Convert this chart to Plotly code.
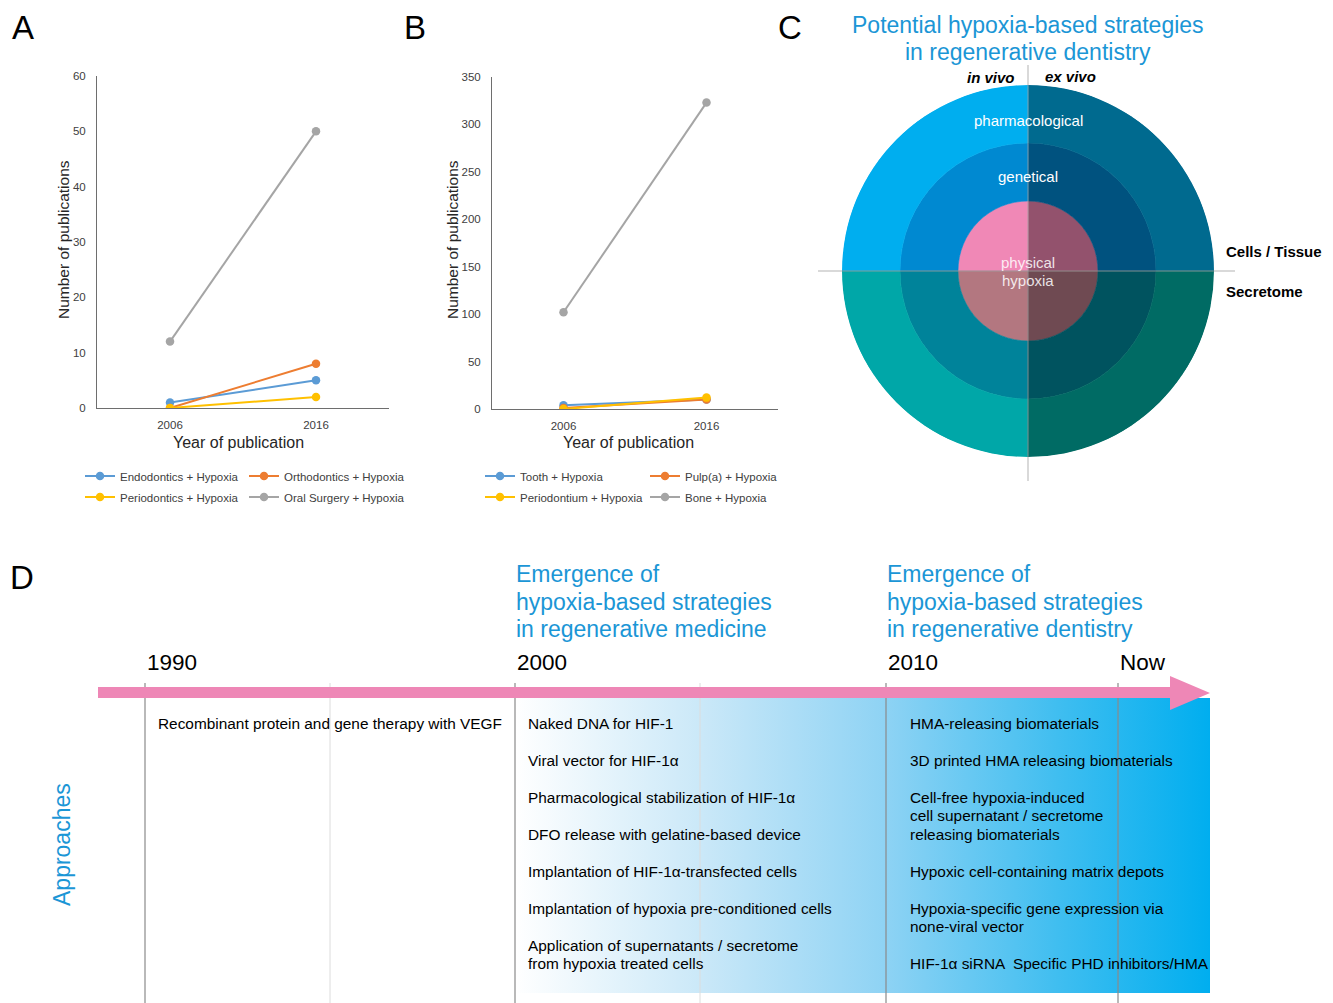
import plotly.graph_objects as go

W, H = 1333, 1003
FONT = "Liberation Sans, Arial, sans-serif"
BLUE_TXT = "#1b96d6"

# ---------------- data ----------------
years = ["2006", "2016"]

# Panel A: publications per dental discipline
a_names = ["Endodontics + Hypoxia", "Orthodontics + Hypoxia",
           "Periodontics + Hypoxia", "Oral Surgery + Hypoxia"]
a_endo = [1, 5]
a_ortho = [0, 8]
a_perio = [0, 2]
a_oral = [12, 50]

# Panel B: publications per tissue
b_names = ["Tooth + Hypoxia", "Pulp(a) + Hypoxia",
           "Periodontium + Hypoxia", "Bone + Hypoxia"]
b_tooth = [4, 10]
b_pulp = [1, 10]
b_periodontium = [0, 12]
b_bone = [102, 323]

series_colors = ["#5b9bd5", "#ed7d31", "#ffc000", "#a5a5a5"]

# Panel C: concentric strategy rings (inner -> outer), quadrants TR, TL, BL, BR
ring_labels = ["physical<br>hypoxia", "genetical", "pharmacological"]
ring_radii = [70, 128, 186]
quadrant_theta = [45, 135, 225, 315]
ring_colors = [
    ["#93526d", "#f088b6", "#b37780", "#6f4a52"],
    ["#00527f", "#0089d1", "#00839a", "#00535f"],
    ["#006a8f", "#00aeef", "#00a7a8", "#006b64"],
]

# Panel D: timeline
timeline_marks = ["1990", "2000", "2010", "Now"]
approaches_1990 = ["Recombinant protein and gene therapy with VEGF"]
approaches_2000 = [
    "Naked DNA for HIF-1",
    "Viral vector for HIF-1α",
    "Pharmacological stabilization of HIF-1α",
    "DFO release with gelatine-based device",
    "Implantation of HIF-1α-transfected cells",
    "Implantation of hypoxia pre-conditioned cells",
    "Application of supernatants / secretome\nfrom hypoxia treated cells",
]
approaches_2010 = [
    "HMA-releasing biomaterials",
    "3D printed HMA releasing biomaterials",
    "Cell-free hypoxia-induced\ncell supernatant / secretome\nreleasing biomaterials",
    "Hypoxic cell-containing matrix depots",
    "Hypoxia-specific gene expression via\nnone-viral vector",
    "HIF-1α siRNA  Specific PHD inhibitors/HMA",
]
heading_medicine = ["Emergence of", "hypoxia-based strategies", "in regenerative medicine"]
heading_dentistry = ["Emergence of", "hypoxia-based strategies", "in regenerative dentistry"]

# ---------------- layout helpers ----------------
def px(x):
    return x / W


def py(y):
    return 1 - y / H


fig = go.Figure()

# ---------------- panels A & B: line charts ----------------
panelA = [a_endo, a_ortho, a_perio, a_oral]
panelB = [b_tooth, b_pulp, b_periodontium, b_bone]
legA_pos = [(80, 476), (244, 476), (80, 497), (244, 497)]
legB_pos = [(480, 476), (645, 476), (480, 497), (645, 497)]

legend_layouts = {}
k = 0
for vals_list, names, axes, legpos in [
    (panelA, a_names, ("x", "y"), legA_pos),
    (panelB, b_names, ("x2", "y2"), legB_pos),
]:
    for vals, name, color, (lx, ly) in zip(vals_list, names, series_colors, legpos):
        k += 1
        lname = "legend" if k == 1 else f"legend{k}"
        fig.add_trace(go.Scatter(
            x=years, y=vals, name=name, mode="lines+markers",
            line=dict(color=color, width=2),
            marker=dict(color=color, size=8.5),
            xaxis=axes[0], yaxis=axes[1], legend=lname, showlegend=True,
        ))
        legend_layouts[lname] = dict(
            x=px(lx), y=py(ly), xanchor="left", yanchor="middle",
            orientation="h", bgcolor="rgba(0,0,0,0)", borderwidth=0,
            font=dict(family=FONT, size=11.5, color="#404040"),
            itemwidth=30, tracegroupgap=0,
        )

axis_common = dict(
    showgrid=False, zeroline=False, showline=True, linecolor="#6e6e6e",
    linewidth=1, ticks="", tickfont=dict(family=FONT, size=11.5, color="#404040"),
    fixedrange=True,
)

layout = dict(
    width=W, height=H, margin=dict(l=0, r=0, t=0, b=0, pad=0, autoexpand=False),
    paper_bgcolor="white", plot_bgcolor="rgba(0,0,0,0)",
    font=dict(family=FONT),
    xaxis=dict(domain=[px(97), px(389)], type="category", range=[-0.5, 1.5],
               anchor="y", ticklabelstandoff=6, **axis_common),
    yaxis=dict(domain=[py(408), py(76)], range=[0, 60], dtick=10,
               anchor="x", ticklabelstandoff=8, **axis_common),
    xaxis2=dict(domain=[px(492), px(778)], type="category", range=[-0.5, 1.5],
                anchor="y2", ticklabelstandoff=6, **axis_common),
    yaxis2=dict(domain=[py(409), py(77)], range=[0, 350], dtick=50,
                anchor="x2", ticklabelstandoff=8, **axis_common),
    # pixel-space overlay for diagram elements
    xaxis3=dict(domain=[0, 1], range=[0, W], visible=False, anchor="y3", fixedrange=True),
    yaxis3=dict(domain=[0, 1], range=[H, 0], visible=False, anchor="x3", fixedrange=True),
    polar=dict(
        domain=dict(x=[px(1028 - 186), px(1028 + 186)], y=[py(271 + 186), py(271 - 186)]),
        bgcolor="rgba(0,0,0,0)", hole=0,
        radialaxis=dict(visible=False, range=[0, ring_radii[-1]]),
        angularaxis=dict(visible=False, direction="counterclockwise", rotation=0),
    ),
    showlegend=True,
)
layout.update(legend_layouts)
fig.update_layout(**layout)

# ---------------- panel C: concentric rings ----------------
bases = [0] + ring_radii[:-1]
for base, outer, colors in zip(bases, ring_radii, ring_colors):
    fig.add_trace(go.Barpolar(
        r=[outer - base] * 4, base=[base] * 4, theta=quadrant_theta, width=[90] * 4,
        marker=dict(color=colors, line=dict(color=colors, width=0.6)),
        showlegend=False, hoverinfo="skip",
    ))

shapes = []
# cross lines
shapes.append(dict(type="line", xref="x3", yref="y3", x0=818, x1=1235, y0=271, y1=271,
                   line=dict(color="rgba(160,160,160,0.8)", width=1), layer="above"))
shapes.append(dict(type="line", xref="x3", yref="y3", x0=1028, x1=1028, y0=65, y1=481,
                   line=dict(color="rgba(160,160,160,0.8)", width=1), layer="above"))

# ---------------- panel D: timeline ----------------
mark_x = [145, 515, 886, 1118]
minor_x = [330, 700]

fig.add_trace(go.Scatter(
    x=[515, 1210, 1210, 515, 515], y=[698, 698, 993, 993, 698],
    xaxis="x3", yaxis="y3", mode="lines", line=dict(width=0),
    fill="toself",
    fillgradient=dict(type="horizontal",
                      colorscale=[[0, "#ffffff"], [0.27, "#cae8f8"], [0.53, "#8fd3f4"],
                                  [0.78, "#40bef0"], [1, "#00aeef"]]),
    showlegend=False, hoverinfo="skip",
))

for x in minor_x:
    shapes.append(dict(type="line", xref="x3", yref="y3", x0=x, x1=x, y0=683, y1=1003,
                       line=dict(color="#dcdcdc", width=1), layer="above"))
for x in mark_x:
    shapes.append(dict(type="line", xref="x3", yref="y3", x0=x, x1=x, y0=683, y1=1003,
                       line=dict(color="#8a8a8a", width=1.2), layer="above"))

# pink arrow
shapes.append(dict(
    type="path", xref="x3", yref="y3", layer="above",
    path="M 98 687 L 1170 687 L 1170 676 L 1210 693 L 1170 710 L 1170 698 L 98 698 Z",
    fillcolor="#ee87b6", line=dict(width=0),
))
fig.update_layout(shapes=shapes)

ann = []


def text(x, y, s, size, color="black", xanchor="left", bold=False, angle=0, italic=False):
    if bold:
        s = f"<b>{s}</b>"
    if italic:
        s = f"<i>{s}</i>"
    ann.append(dict(x=x, y=y, xref="x3", yref="y3", text=s, showarrow=False,
                    xanchor=xanchor, yanchor="middle", textangle=angle,
                    font=dict(family=FONT, size=size, color=color)))


# panel letters
for letter, (lx, ly) in zip("ABCD", [(23, 27), (415, 27), (790, 27), (22, 577)]):
    text(lx, ly, letter, 33, xanchor="center")

# axis titles A & B
text(63, 240, "Number of publications", 15.5, color="#262626", xanchor="center", angle=-90)
text(238, 442, "Year of publication", 16, color="#262626", xanchor="center")
text(452, 240, "Number of publications", 15.5, color="#262626", xanchor="center", angle=-90)
text(628, 442, "Year of publication", 16, color="#262626", xanchor="center")

# panel C texts
text(1028, 25, "Potential hypoxia-based strategies", 23, BLUE_TXT, "center")
text(1028, 52, "in regenerative dentistry", 23, BLUE_TXT, "center")
text(1017, 77, "in vivo", 15, "black", "right", bold=True, italic=True)
text(1043, 76, "ex vivo", 15, "black", "left", bold=True, italic=True)
text(1028, 120, ring_labels[2], 15, "white", "center")
text(1028, 176, ring_labels[1], 15, "white", "center")
for i, line in enumerate(ring_labels[0].split("<br>")):
    text(1028, 262 + 18 * i, line, 15, "rgba(255,255,255,0.85)", "center")
text(1224, 251, "Cells / Tissue", 15, "black", "left", bold=True)
text(1224, 291, "Secretome", 15, "black", "left", bold=True)

# panel D texts
for label, x in zip(timeline_marks, mark_x):
    text(x, 662, label, 22.5, "black", "left")
for i, line in enumerate(heading_medicine):
    text(514, 574 + 27.5 * i, line, 23, BLUE_TXT, "left")
for i, line in enumerate(heading_dentistry):
    text(885, 574 + 27.5 * i, line, 23, BLUE_TXT, "left")
text(62, 845, "Approaches", 23, BLUE_TXT, "center", angle=-90)


def column(items, x, y0=723, step=18.5):
    y = y0
    for item in items:
        lines = item.split("\n")
        for j, line in enumerate(lines):
            text(x, y + step * j, line, 15.4, "black", "left")
        y += step * (len(lines) + 1)


column(approaches_1990, 156)
column(approaches_2000, 526)
column(approaches_2010, 908)

fig.update_layout(annotations=ann)

fig.write_html("out.html", config={"displayModeBar": False})
